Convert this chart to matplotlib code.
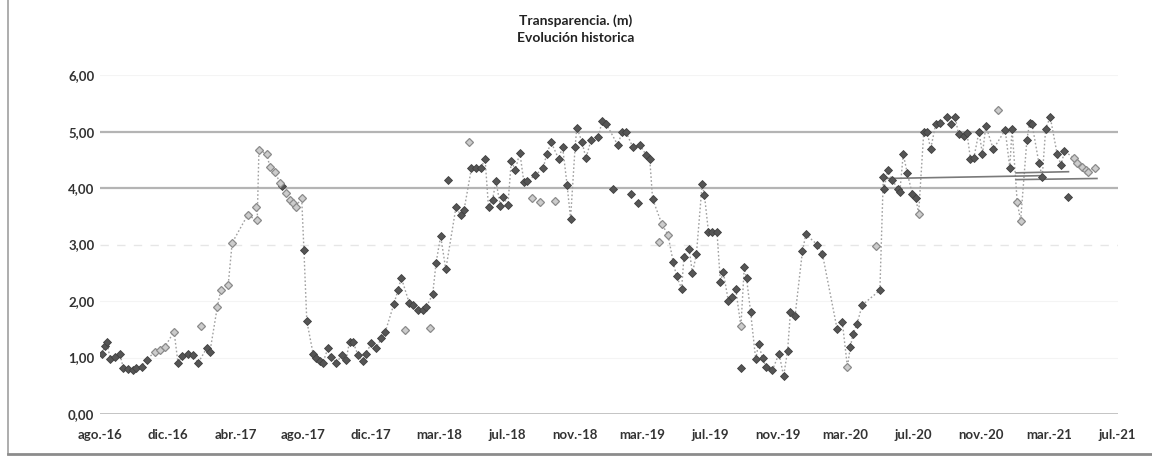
import matplotlib
matplotlib.use("Agg")
import matplotlib.pyplot as plt
from matplotlib.lines import Line2D
import pandas as pd

# ---------------- data ----------------
titulo = "Transparencia. (m)\nEvolución historica"

fechas = [
    "2016-08-16", "2016-08-20", "2016-08-24", "2016-08-30", "2016-09-07", "2016-09-16",
    "2016-09-22", "2016-10-01", "2016-10-09", "2016-10-15", "2016-10-24", "2016-11-02",
    "2016-11-16", "2016-11-25", "2016-12-04", "2016-12-20", "2016-12-27", "2017-01-03",
    "2017-01-14", "2017-01-23", "2017-01-31", "2017-02-06", "2017-02-15", "2017-02-21",
    "2017-03-06", "2017-03-12", "2017-03-25", "2017-04-01", "2017-04-28", "2017-05-12",
    "2017-05-15", "2017-05-18", "2017-06-01", "2017-06-06", "2017-06-15", "2017-06-24",
    "2017-06-28", "2017-07-05", "2017-07-11", "2017-07-17", "2017-07-22", "2017-08-01",
    "2017-08-05", "2017-08-10", "2017-08-21", "2017-08-27", "2017-09-02", "2017-09-07",
    "2017-09-16", "2017-09-22", "2017-10-01", "2017-10-10", "2017-10-18", "2017-10-24",
    "2017-10-30", "2017-11-08", "2017-11-17", "2017-11-22", "2017-12-01", "2017-12-09",
    "2017-12-19", "2017-12-26", "2018-01-10", "2018-01-17", "2018-01-23", "2018-01-30",
    "2018-02-06", "2018-02-13", "2018-02-21", "2018-03-02", "2018-03-08", "2018-03-15",
    "2018-03-19", "2018-03-25", "2018-04-02", "2018-04-11", "2018-04-15", "2018-04-29",
    "2018-05-07", "2018-05-13", "2018-05-21", "2018-05-26", "2018-06-03", "2018-06-11",
    "2018-06-19", "2018-06-25", "2018-07-02", "2018-07-08", "2018-07-16", "2018-07-21",
    "2018-07-29", "2018-08-04", "2018-08-11", "2018-08-19", "2018-08-26", "2018-09-01",
    "2018-09-09", "2018-09-15", "2018-09-23", "2018-09-29", "2018-10-05", "2018-10-13",
    "2018-10-19", "2018-10-26", "2018-11-02", "2018-11-10", "2018-11-16", "2018-11-24",
    "2018-11-27", "2018-12-06", "2018-12-13", "2018-12-22", "2019-01-04", "2019-01-10",
    "2019-01-18", "2019-01-30", "2019-02-07", "2019-02-14", "2019-02-21", "2019-03-02",
    "2019-03-05", "2019-03-14", "2019-03-18", "2019-03-29", "2019-04-04", "2019-04-09",
    "2019-04-20", "2019-04-25", "2019-05-06", "2019-05-15", "2019-05-21", "2019-05-30",
    "2019-06-03", "2019-06-12", "2019-06-18", "2019-06-25", "2019-07-05", "2019-07-09",
    "2019-07-16", "2019-07-23", "2019-07-31", "2019-08-06", "2019-08-11", "2019-08-20",
    "2019-08-27", "2019-09-02", "2019-09-11", "2019-09-11", "2019-09-17", "2019-09-21",
    "2019-09-28", "2019-10-07", "2019-10-12", "2019-10-19", "2019-10-25", "2019-11-05",
    "2019-11-17", "2019-11-25", "2019-12-02", "2019-12-07", "2019-12-15", "2019-12-28",
    "2020-01-03", "2020-01-23", "2020-02-01", "2020-02-27", "2020-03-07", "2020-03-16",
    "2020-03-21", "2020-03-26", "2020-04-02", "2020-04-11", "2020-05-05", "2020-05-12",
    "2020-05-18", "2020-05-19", "2020-05-26", "2020-06-03", "2020-06-13", "2020-06-16",
    "2020-06-22", "2020-06-29", "2020-07-08", "2020-07-14", "2020-07-19", "2020-07-28",
    "2020-08-03", "2020-08-09", "2020-08-18", "2020-08-26", "2020-09-06", "2020-09-13",
    "2020-09-21", "2020-09-27", "2020-10-06", "2020-10-12", "2020-10-18", "2020-10-24",
    "2020-11-02", "2020-11-08", "2020-11-14", "2020-11-27", "2020-12-05", "2020-12-18",
    "2020-12-26", "2020-12-30", "2021-01-08", "2021-01-14", "2021-01-25", "2021-01-30",
    "2021-02-03", "2021-02-15", "2021-02-21", "2021-02-27", "2021-03-07", "2021-03-19",
    "2021-03-26", "2021-04-01", "2021-04-08", "2021-04-17", "2021-04-23", "2021-05-02",
    "2021-05-08", "2021-05-12", "2021-05-24",
]

valores = [
    1.06, 1.20, 1.28, 0.97, 1.01, 1.06,
    0.81, 0.79, 0.78, 0.81, 0.84, 0.96,
    1.10, 1.14, 1.19, 1.46, 0.90, 1.03,
    1.07, 1.04, 0.90, 1.55, 1.16, 1.10,
    1.90, 2.19, 2.28, 3.03, 3.52, 3.67,
    3.43, 4.68, 4.60, 4.38, 4.29, 4.09,
    4.04, 3.91, 3.79, 3.73, 3.67, 3.83,
    2.90, 1.65, 1.07, 0.99, 0.93, 0.90,
    1.16, 1.01, 0.90, 1.04, 0.96, 1.28,
    1.28, 1.04, 0.93, 1.07, 1.25, 1.16,
    1.34, 1.46, 1.95, 2.19, 2.41, 1.49,
    1.96, 1.93, 1.84, 1.84, 1.90, 1.52,
    2.12, 2.68, 3.15, 2.56, 4.14, 3.67,
    3.52, 3.61, 4.82, 4.35, 4.35, 4.35,
    4.51, 3.66, 3.79, 4.12, 3.68, 3.85,
    3.70, 4.48, 4.32, 4.63, 4.11, 4.12,
    3.82, 4.23, 3.76, 4.35, 4.60, 4.81,
    3.77, 4.52, 4.73, 4.05, 3.46, 4.73,
    5.07, 4.82, 4.53, 4.85, 4.90, 5.18,
    5.13, 3.99, 4.76, 4.99, 5.00, 3.89,
    4.73, 3.74, 4.76, 4.58, 4.52, 3.81,
    3.05, 3.37, 3.17, 2.70, 2.44, 2.22,
    2.78, 2.93, 2.49, 2.84, 4.07, 3.88,
    3.23, 3.23, 3.23, 2.34, 2.52, 2.00,
    2.08, 2.21, 1.55, 0.81, 2.61, 2.40,
    1.81, 0.97, 1.24, 0.99, 0.84, 0.77,
    1.07, 0.67, 1.12, 1.81, 1.73, 2.88,
    3.18, 3.00, 2.84, 1.50, 1.63, 0.83,
    1.18, 1.42, 1.60, 1.93, 2.98, 2.19,
    4.19, 3.98, 4.32, 4.14, 3.98, 3.93,
    4.60, 4.27, 3.89, 3.83, 3.55, 4.99,
    5.00, 4.69, 5.13, 5.16, 5.25, 5.14,
    5.26, 4.96, 4.93, 4.97, 4.51, 4.54,
    5.00, 4.60, 5.10, 4.69, 5.38, 5.03,
    4.36, 5.05, 3.76, 3.42, 4.85, 5.16,
    5.14, 4.45, 4.20, 5.05, 5.26, 4.61,
    4.41, 4.65, 3.85, 4.54, 4.44, 4.37,
    4.32, 4.29, 4.35,
]

# D = dark marker on line, L = light marker on line,
# DI / LI = isolated (not joined by the dotted line)
tipos = [
    "D", "D", "D", "D", "D", "D",
    "D", "D", "D", "D", "D", "D",
    "L", "L", "L", "L", "D", "D",
    "D", "D", "D", "LI", "D", "D",
    "L", "L", "L", "L", "L", "LI",
    "L", "L", "L", "L", "L", "L",
    "D", "L", "L", "L", "L", "L",
    "D", "D", "D", "D", "D", "D",
    "D", "D", "D", "D", "D", "D",
    "D", "D", "D", "D", "D", "D",
    "D", "D", "D", "D", "D", "LI",
    "D", "D", "D", "D", "D", "LI",
    "D", "D", "D", "D", "DI", "D",
    "D", "D", "LI", "D", "D", "D",
    "D", "D", "D", "D", "D", "D",
    "D", "D", "D", "D", "D", "D",
    "LI", "D", "LI", "D", "D", "D",
    "LI", "D", "D", "D", "D", "D",
    "D", "D", "D", "D", "D", "D",
    "D", "DI", "D", "D", "D", "DI",
    "D", "DI", "D", "D", "D", "D",
    "LI", "L", "L", "D", "D", "D",
    "D", "D", "D", "D", "D", "D",
    "D", "D", "D", "D", "D", "D",
    "D", "D", "L", "DI", "D", "D",
    "D", "D", "D", "D", "D", "D",
    "D", "D", "D", "D", "D", "D",
    "D", "D", "D", "D", "D", "L",
    "D", "D", "D", "D", "LI", "D",
    "D", "D", "D", "D", "D", "D",
    "D", "D", "D", "D", "L", "D",
    "D", "D", "D", "D", "D", "D",
    "D", "D", "D", "D", "D", "D",
    "D", "D", "D", "D", "LI", "D",
    "D", "D", "L", "L", "D", "D",
    "D", "D", "D", "D", "D", "D",
    "D", "D", "DI", "L", "L", "L",
    "L", "L", "L",
]

# out-of-order records that the original workbook joins with straight lines
cruce_fechas = ["2020-05-23", "2021-02-20", None, "2021-01-06", "2021-04-08", None,
                "2021-01-06", "2021-05-28"]
cruce_valores = [4.17, 4.22, None, 4.27, 4.29, None, 4.15, 4.17]

eje_inicio = "2016-08-12"
paso_dias = 119
etiquetas_x = ["ago.-16", "dic.-16", "abr.-17", "ago.-17", "dic.-17", "mar.-18",
               "jul.-18", "nov.-18", "mar.-19", "jul.-19", "nov.-19", "mar.-20",
               "jul.-20", "nov.-20", "mar.-21", "jul.-21"]
valores_y = [0, 1, 2, 3, 4, 5, 6]
etiquetas_y = ["0,00", "1,00", "2,00", "3,00", "4,00", "5,00", "6,00"]

# ---------------- plot ----------------
plt.rcParams["font.family"] = ["Lato", "DejaVu Sans"]

df = pd.DataFrame({"fecha": pd.to_datetime(fechas), "valor": valores, "tipo": tipos})

fig = plt.figure(figsize=(11.52, 4.61), dpi=100)
ax = fig.add_axes([0.0868, 0.102, 0.8837, 0.735])

# gridlines (as they survive in the scanned original)
for v in valores_y:
    if v in (4, 5):
        ax.axhline(v, color="#b4b4b4", lw=1.6, zorder=0)
    elif v == 3:
        ax.axhline(v, color="#e6e6e6", lw=1.0, ls=(0, (6, 6)), zorder=0)
    elif v == 0:
        ax.axhline(v, color="#c4c4c4", lw=1.4, zorder=0)
    else:
        ax.axhline(v, color="#f4f4f4", lw=0.8, zorder=0)

linea = df[df["tipo"].isin(["D", "L"])]
ax.plot(linea["fecha"], linea["valor"], ls=(0, (1.2, 1.6)), color="#a0a0a0", lw=1.0, zorder=1)

cf = pd.to_datetime(pd.Series(cruce_fechas))
ax.plot(cf, cruce_valores, color="#7a7a7a", lw=1.2, zorder=1)

oscuro = df[df["tipo"].isin(["D", "DI"])]
claro = df[df["tipo"].isin(["L", "LI"])]
ax.plot(oscuro["fecha"], oscuro["valor"], ls="none", marker="D", ms=4.4,
        mfc="#555555", mec="#404040", mew=0.6, zorder=3)
ax.plot(claro["fecha"], claro["valor"], ls="none", marker="D", ms=4.2,
        mfc="#cccccc", mec="#8a8a8a", mew=0.9, zorder=3)

x0 = pd.Timestamp(eje_inicio)
ticks_x = [x0 + pd.Timedelta(days=paso_dias * k) for k in range(len(etiquetas_x))]
ax.set_xlim(ticks_x[0], ticks_x[-1] + pd.Timedelta(days=2))
ax.set_xticks(ticks_x)
ax.set_xticklabels(etiquetas_x, fontsize=9.5, fontweight="bold", color="#333333")
ax.set_ylim(0, 6)
ax.set_yticks(valores_y)
ax.set_yticklabels(etiquetas_y, fontsize=9.5, fontweight="bold", color="#333333")
ax.tick_params(axis="both", length=0, pad=4)
ax.tick_params(axis="x", pad=11)
for s in ax.spines.values():
    s.set_visible(False)

fig.text(0.5, 0.936, titulo, ha="center", va="center", fontsize=10,
         fontweight="bold", color="#222222", linespacing=1.5)

# chart-area border (left and bottom visible in the original)
fig.add_artist(Line2D([0.007, 0.007], [0.015, 1.0], transform=fig.transFigure,
                      color="#a0a0a0", lw=1.2))
fig.add_artist(Line2D([0.007, 1.0], [0.015, 0.015], transform=fig.transFigure,
                      color="#8c8c8c", lw=2.0))

fig.savefig("out.png", dpi=100)
